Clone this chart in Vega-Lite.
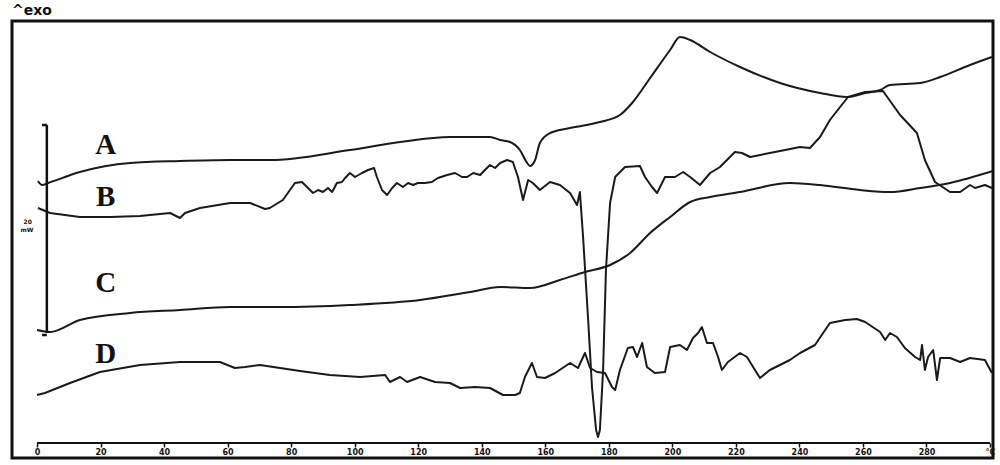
{
  "$schema": "https://vega.github.io/schema/vega-lite/v6.json",
  "width": 981,
  "height": 437,
  "autosize": {"type": "none"},
  "padding": {"left": 12, "top": 21, "right": 7, "bottom": 7},
  "background": "white",
  "title": {"text": "^exo", "anchor": "start", "fontSize": 14, "fontWeight": "bold", "font": "DejaVu Sans", "color": "#111", "offset": 3, "frame": "group"},
  "config": {"view": {"stroke": "#111", "strokeWidth": 3}},
  "datasets": {
    "curves": [
      {"curve": "A", "T": 0.3, "hf": 27.7}, {"curve": "A", "T": 1.6, "hf": 27.3}, {"curve": "A", "T": 3.5, "hf": 27.5}, {"curve": "A", "T": 13.5, "hf": 28.6}, {"curve": "A", "T": 29.3, "hf": 29.5}, {"curve": "A", "T": 45.0, "hf": 29.7}, {"curve": "A", "T": 60.8, "hf": 29.8}, {"curve": "A", "T": 73.3, "hf": 29.8}, {"curve": "A", "T": 98.5, "hf": 30.8}, {"curve": "A", "T": 114.3, "hf": 31.6}, {"curve": "A", "T": 130.0, "hf": 32.1}, {"curve": "A", "T": 142.6, "hf": 32.1}, {"curve": "A", "T": 145.8, "hf": 31.8}, {"curve": "A", "T": 148.9, "hf": 31.6}, {"curve": "A", "T": 152.0, "hf": 30.8}, {"curve": "A", "T": 154.3, "hf": 29.5}, {"curve": "A", "T": 155.2, "hf": 29.2}, {"curve": "A", "T": 156.8, "hf": 29.8}, {"curve": "A", "T": 158.3, "hf": 31.5}, {"curve": "A", "T": 161.5, "hf": 32.5}, {"curve": "A", "T": 167.8, "hf": 33.0}, {"curve": "A", "T": 177.2, "hf": 33.6}, {"curve": "A", "T": 183.5, "hf": 34.3}, {"curve": "A", "T": 187.6, "hf": 35.6}, {"curve": "A", "T": 193.0, "hf": 38.0}, {"curve": "A", "T": 199.3, "hf": 40.8}, {"curve": "A", "T": 202.4, "hf": 42.1}, {"curve": "A", "T": 205.6, "hf": 41.8}, {"curve": "A", "T": 211.9, "hf": 40.6}, {"curve": "A", "T": 221.3, "hf": 39.1}, {"curve": "A", "T": 233.9, "hf": 37.5}, {"curve": "A", "T": 246.5, "hf": 36.5}, {"curve": "A", "T": 255.0, "hf": 36.1}, {"curve": "A", "T": 260.7, "hf": 36.5}, {"curve": "A", "T": 265.4, "hf": 36.8}, {"curve": "A", "T": 268.5, "hf": 37.3}, {"curve": "A", "T": 278.0, "hf": 37.5}, {"curve": "A", "T": 284.3, "hf": 38.1}, {"curve": "A", "T": 293.7, "hf": 39.3}, {"curve": "A", "T": 300.6, "hf": 40.1},
      {"curve": "B", "T": 0.3, "hf": 25.0}, {"curve": "B", "T": 4.1, "hf": 24.5}, {"curve": "B", "T": 13.5, "hf": 24.1}, {"curve": "B", "T": 23.0, "hf": 24.1}, {"curve": "B", "T": 32.4, "hf": 24.2}, {"curve": "B", "T": 41.9, "hf": 24.5}, {"curve": "B", "T": 45.0, "hf": 24.0}, {"curve": "B", "T": 46.6, "hf": 24.5}, {"curve": "B", "T": 51.3, "hf": 25.0}, {"curve": "B", "T": 60.8, "hf": 25.5}, {"curve": "B", "T": 67.1, "hf": 25.5}, {"curve": "B", "T": 71.8, "hf": 24.9},
      {"curve": "B", "T": 73.3, "hf": 25.0}, {"curve": "B", "T": 77.4, "hf": 25.8}, {"curve": "B", "T": 80.3, "hf": 27.1}, {"curve": "B", "T": 81.2, "hf": 27.5}, {"curve": "B", "T": 83.4, "hf": 27.6}, {"curve": "B", "T": 85.0, "hf": 27.1}, {"curve": "B", "T": 86.9, "hf": 26.5}, {"curve": "B", "T": 88.5, "hf": 26.8}, {"curve": "B", "T": 90.0, "hf": 26.6}, {"curve": "B", "T": 91.6, "hf": 27.0}, {"curve": "B", "T": 92.9, "hf": 26.6}, {"curve": "B", "T": 94.4, "hf": 27.5}, {"curve": "B", "T": 96.0, "hf": 27.6}, {"curve": "B", "T": 97.0, "hf": 28.0}, {"curve": "B", "T": 98.5, "hf": 28.5}, {"curve": "B", "T": 100.1, "hf": 28.1}, {"curve": "B", "T": 102.3, "hf": 28.5}, {"curve": "B", "T": 104.2, "hf": 28.8}, {"curve": "B", "T": 106.1, "hf": 29.0}, {"curve": "B", "T": 107.0, "hf": 28.1}, {"curve": "B", "T": 108.6, "hf": 26.8}, {"curve": "B", "T": 110.2, "hf": 26.3}, {"curve": "B", "T": 111.8, "hf": 27.0}, {"curve": "B", "T": 113.3, "hf": 27.5}, {"curve": "B", "T": 115.2, "hf": 27.1}, {"curve": "B", "T": 116.8, "hf": 27.5}, {"curve": "B", "T": 118.4, "hf": 27.3}, {"curve": "B", "T": 119.9, "hf": 27.5}, {"curve": "B", "T": 122.1, "hf": 27.5}, {"curve": "B", "T": 124.3, "hf": 27.6}, {"curve": "B", "T": 126.2, "hf": 28.0}, {"curve": "B", "T": 129.1, "hf": 28.3}, {"curve": "B", "T": 131.6, "hf": 28.5}, {"curve": "B", "T": 133.8, "hf": 28.1}, {"curve": "B", "T": 135.4, "hf": 28.1}, {"curve": "B", "T": 137.3, "hf": 28.5}, {"curve": "B", "T": 139.5, "hf": 28.3}, {"curve": "B", "T": 141.0, "hf": 28.8}, {"curve": "B", "T": 142.6, "hf": 29.3}, {"curve": "B", "T": 144.2, "hf": 29.0}, {"curve": "B", "T": 145.8, "hf": 29.5}, {"curve": "B", "T": 148.0, "hf": 29.8}, {"curve": "B", "T": 149.8, "hf": 29.6}, {"curve": "B", "T": 151.4, "hf": 28.1}, {"curve": "B", "T": 153.0, "hf": 25.8}, {"curve": "B", "T": 154.6, "hf": 27.8},
      {"curve": "B", "T": 156.1, "hf": 27.5}, {"curve": "B", "T": 158.3, "hf": 26.8}, {"curve": "B", "T": 161.5, "hf": 27.6}, {"curve": "B", "T": 164.6, "hf": 27.3}, {"curve": "B", "T": 167.8, "hf": 26.5}, {"curve": "B", "T": 170.0, "hf": 25.3}, {"curve": "B", "T": 170.9, "hf": 26.6}, {"curve": "B", "T": 171.9, "hf": 22.1}, {"curve": "B", "T": 173.5, "hf": 13.8}, {"curve": "B", "T": 174.7, "hf": 7.1}, {"curve": "B", "T": 176.0, "hf": 2.8}, {"curve": "B", "T": 176.6, "hf": 2.1}, {"curve": "B", "T": 177.2, "hf": 2.8}, {"curve": "B", "T": 178.2, "hf": 8.8}, {"curve": "B", "T": 179.1, "hf": 18.8}, {"curve": "B", "T": 180.4, "hf": 25.5}, {"curve": "B", "T": 182.0, "hf": 28.1}, {"curve": "B", "T": 185.1, "hf": 29.1}, {"curve": "B", "T": 189.8, "hf": 29.2}, {"curve": "B", "T": 191.4, "hf": 28.1}, {"curve": "B", "T": 193.6, "hf": 27.1}, {"curve": "B", "T": 195.2, "hf": 26.5}, {"curve": "B", "T": 197.7, "hf": 28.1}, {"curve": "B", "T": 200.8, "hf": 28.1}, {"curve": "B", "T": 203.4, "hf": 28.6}, {"curve": "B", "T": 205.6, "hf": 28.1}, {"curve": "B", "T": 208.7, "hf": 27.3}, {"curve": "B", "T": 211.9, "hf": 28.5}, {"curve": "B", "T": 215.0, "hf": 29.1}, {"curve": "B", "T": 219.7, "hf": 30.6}, {"curve": "B", "T": 221.9, "hf": 30.5}, {"curve": "B", "T": 224.5, "hf": 30.1}, {"curve": "B", "T": 230.7, "hf": 30.5}, {"curve": "B", "T": 235.5, "hf": 30.8}, {"curve": "B", "T": 240.2, "hf": 31.1}, {"curve": "B", "T": 243.3, "hf": 31.0}, {"curve": "B", "T": 246.5, "hf": 32.1}, {"curve": "B", "T": 249.6, "hf": 33.8}, {"curve": "B", "T": 252.8, "hf": 35.1}, {"curve": "B", "T": 255.3, "hf": 36.1}, {"curve": "B", "T": 260.7, "hf": 36.6}, {"curve": "B", "T": 266.3, "hf": 36.7}, {"curve": "B", "T": 271.7, "hf": 34.3}, {"curve": "B", "T": 277.0, "hf": 32.5}, {"curve": "B", "T": 279.5, "hf": 29.8}, {"curve": "B", "T": 282.7, "hf": 27.6}, {"curve": "B", "T": 287.4, "hf": 26.6}, {"curve": "B", "T": 290.6, "hf": 26.6}, {"curve": "B", "T": 293.7, "hf": 27.3}, {"curve": "B", "T": 295.3, "hf": 27.0}, {"curve": "B", "T": 298.4, "hf": 27.3}, {"curve": "B", "T": 300.6, "hf": 27.0},
      {"curve": "C", "T": 0.0, "hf": 12.8}, {"curve": "C", "T": 4.1, "hf": 12.6}, {"curve": "C", "T": 13.5, "hf": 13.8}, {"curve": "C", "T": 29.3, "hf": 14.5}, {"curve": "C", "T": 45.0, "hf": 14.8}, {"curve": "C", "T": 60.8, "hf": 15.1}, {"curve": "C", "T": 76.5, "hf": 15.1}, {"curve": "C", "T": 98.5, "hf": 15.3}, {"curve": "C", "T": 120.6, "hf": 15.8}, {"curve": "C", "T": 136.3, "hf": 16.6}, {"curve": "C", "T": 145.8, "hf": 17.1}, {"curve": "C", "T": 155.2, "hf": 17.0}, {"curve": "C", "T": 164.6, "hf": 17.8}, {"curve": "C", "T": 172.5, "hf": 18.6}, {"curve": "C", "T": 180.4, "hf": 19.3}, {"curve": "C", "T": 186.7, "hf": 20.5}, {"curve": "C", "T": 193.0, "hf": 22.5}, {"curve": "C", "T": 199.3, "hf": 24.1}, {"curve": "C", "T": 205.6, "hf": 25.6}, {"curve": "C", "T": 211.9, "hf": 26.1}, {"curve": "C", "T": 221.3, "hf": 26.6}, {"curve": "C", "T": 237.0, "hf": 27.5}, {"curve": "C", "T": 246.5, "hf": 27.3}, {"curve": "C", "T": 259.1, "hf": 26.8}, {"curve": "C", "T": 268.5, "hf": 26.6}, {"curve": "C", "T": 278.0, "hf": 27.0}, {"curve": "C", "T": 287.4, "hf": 27.5}, {"curve": "C", "T": 300.9, "hf": 28.7},
      {"curve": "D", "T": 0.0, "hf": 6.3}, {"curve": "D", "T": 2.5, "hf": 6.5}, {"curve": "D", "T": 10.4, "hf": 7.5}, {"curve": "D", "T": 19.8, "hf": 8.6}, {"curve": "D", "T": 32.4, "hf": 9.3}, {"curve": "D", "T": 45.0, "hf": 9.6}, {"curve": "D", "T": 57.6, "hf": 9.6}, {"curve": "D", "T": 62.3, "hf": 9.0}, {"curve": "D", "T": 65.5, "hf": 9.1}, {"curve": "D", "T": 70.2, "hf": 9.3}, {"curve": "D", "T": 76.5, "hf": 9.0}, {"curve": "D", "T": 82.8, "hf": 8.7}, {"curve": "D", "T": 92.2, "hf": 8.3}, {"curve": "D", "T": 101.7, "hf": 8.1}, {"curve": "D", "T": 109.6, "hf": 8.3}, {"curve": "D", "T": 111.1, "hf": 7.6}, {"curve": "D", "T": 114.3, "hf": 8.1}, {"curve": "D", "T": 116.5, "hf": 7.6}, {"curve": "D", "T": 120.6, "hf": 8.1}, {"curve": "D", "T": 125.3, "hf": 7.6}, {"curve": "D", "T": 130.0, "hf": 7.5}, {"curve": "D", "T": 133.2, "hf": 7.0}, {"curve": "D", "T": 137.9, "hf": 7.1}, {"curve": "D", "T": 142.6, "hf": 7.0}, {"curve": "D", "T": 146.7, "hf": 6.3}, {"curve": "D", "T": 150.5, "hf": 6.3}, {"curve": "D", "T": 152.0, "hf": 6.5}, {"curve": "D", "T": 153.6, "hf": 8.1}, {"curve": "D", "T": 155.8, "hf": 9.5}, {"curve": "D", "T": 157.4, "hf": 8.1}, {"curve": "D", "T": 159.9, "hf": 8.0}, {"curve": "D", "T": 163.1, "hf": 8.5}, {"curve": "D", "T": 167.8, "hf": 9.5}, {"curve": "D", "T": 170.3, "hf": 9.0}, {"curve": "D", "T": 172.5, "hf": 10.5}, {"curve": "D", "T": 174.1, "hf": 9.0}, {"curve": "D", "T": 176.3, "hf": 8.6}, {"curve": "D", "T": 178.8, "hf": 8.5}, {"curve": "D", "T": 181.0, "hf": 7.1}, {"curve": "D", "T": 182.0, "hf": 6.8}, {"curve": "D", "T": 183.5, "hf": 8.8}, {"curve": "D", "T": 186.0, "hf": 11.0}, {"curve": "D", "T": 187.6, "hf": 11.1}, {"curve": "D", "T": 188.9, "hf": 10.1}, {"curve": "D", "T": 190.5, "hf": 11.5}, {"curve": "D", "T": 192.0, "hf": 9.1}, {"curve": "D", "T": 194.5, "hf": 8.5}, {"curve": "D", "T": 197.7, "hf": 8.6}, {"curve": "D", "T": 199.3, "hf": 11.1}, {"curve": "D", "T": 202.4, "hf": 11.3}, {"curve": "D", "T": 204.6, "hf": 10.8}, {"curve": "D", "T": 206.5, "hf": 12.0}, {"curve": "D", "T": 208.1, "hf": 12.5}, {"curve": "D", "T": 209.3, "hf": 13.1}, {"curve": "D", "T": 210.9, "hf": 11.5}, {"curve": "D", "T": 212.8, "hf": 11.5}, {"curve": "D", "T": 214.4, "hf": 10.1}, {"curve": "D", "T": 215.6, "hf": 8.8}, {"curve": "D", "T": 217.5, "hf": 9.6}, {"curve": "D", "T": 221.3, "hf": 10.5}, {"curve": "D", "T": 223.5, "hf": 10.1}, {"curve": "D", "T": 226.0, "hf": 8.8}, {"curve": "D", "T": 227.6, "hf": 8.0}, {"curve": "D", "T": 230.7, "hf": 8.8}, {"curve": "D", "T": 237.0, "hf": 9.8}, {"curve": "D", "T": 240.2, "hf": 10.5}, {"curve": "D", "T": 244.9, "hf": 11.3}, {"curve": "D", "T": 249.6, "hf": 13.5}, {"curve": "D", "T": 254.4, "hf": 13.8}, {"curve": "D", "T": 258.1, "hf": 13.9}, {"curve": "D", "T": 260.7, "hf": 13.6}, {"curve": "D", "T": 265.4, "hf": 12.6}, {"curve": "D", "T": 267.0, "hf": 11.8}, {"curve": "D", "T": 268.5, "hf": 12.5}, {"curve": "D", "T": 270.7, "hf": 12.1}, {"curve": "D", "T": 273.2, "hf": 11.0}, {"curve": "D", "T": 276.4, "hf": 10.1}, {"curve": "D", "T": 278.0, "hf": 9.8}, {"curve": "D", "T": 278.6, "hf": 11.3}, {"curve": "D", "T": 279.5, "hf": 8.8}, {"curve": "D", "T": 280.5, "hf": 10.1}, {"curve": "D", "T": 282.1, "hf": 10.8}, {"curve": "D", "T": 283.3, "hf": 7.8}, {"curve": "D", "T": 284.3, "hf": 10.0}, {"curve": "D", "T": 287.4, "hf": 10.0}, {"curve": "D", "T": 290.6, "hf": 9.6}, {"curve": "D", "T": 293.7, "hf": 10.0}, {"curve": "D", "T": 298.4, "hf": 9.8}, {"curve": "D", "T": 300.6, "hf": 8.5}
    ],
    "labels": [
      {"text": "A", "T": 21.6, "hf": 31.3},
      {"text": "B", "T": 21.6, "hf": 26.1},
      {"text": "C", "T": 21.6, "hf": 17.5},
      {"text": "D", "T": 21.6, "hf": 10.4}
    ],
    "scalebar": [
      {"T": 3.1, "T2": 3.1, "hf": 33.3, "hf2": 12.5},
      {"T": 1.6, "T2": 3.1, "hf": 33.3, "hf2": 33.3},
      {"T": 1.6, "T2": 3.1, "hf": 12.3, "hf2": 12.3}
    ],
    "scaletext": [
      {"text": "20", "T": -2.9, "hf": 23.6},
      {"text": "mW", "T": -3.2, "hf": 22.8}
    ],
    "baseline": [
      {"T": 0, "T2": 300, "hf": 1.5}
    ]
  },
  "layer": [
    {
      "data": {"name": "baseline"},
      "mark": {"type": "rule", "color": "#111", "strokeWidth": 2},
      "encoding": {
        "x": {"field": "T", "type": "quantitative", "scale": {"domain": [-7.87, 300.94], "nice": false, "zero": false},
          "axis": {"values": [0,10,20,30,40,50,60,70,80,90,100,110,120,130,140,150,160,170,180,190,200,210,220,230,240,250,260,270,280,290,300],
            "labelExpr": "datum.value == 300 ? '°C' : (datum.value % 20 == 0 ? datum.label : '')",
            "offset": -15, "domain": false, "grid": false, "ticks": true, "tickSize": 4, "tickWidth": 1.5, "tickColor": "#111",
            "labelFontSize": 8, "labelFontWeight": "bold", "labelFont": "DejaVu Sans", "labelColor": "#111", "labelPadding": 1, "title": null, "labelFlush": false, "labelOverlap": false}},
        "x2": {"field": "T2"},
        "y": {"field": "hf", "type": "quantitative", "scale": {"domain": [0, 43.7], "nice": false, "zero": false}, "axis": null}
      }
    },
    {
      "data": {"name": "curves"},
      "transform": [{"filter": "datum.curve == 'A' || datum.curve == 'C'"}],
      "mark": {"type": "line", "color": "#1a1a1a", "strokeWidth": 2, "interpolate": "monotone", "clip": true},
      "encoding": {
        "x": {"field": "T", "type": "quantitative"},
        "y": {"field": "hf", "type": "quantitative"},
        "detail": {"field": "curve"},
        "order": {"field": "T", "type": "quantitative"}
      }
    },
    {
      "data": {"name": "curves"},
      "transform": [{"filter": "datum.curve == 'B' || datum.curve == 'D'"}],
      "mark": {"type": "line", "color": "#1a1a1a", "strokeWidth": 2, "strokeJoin": "round", "clip": true},
      "encoding": {
        "x": {"field": "T", "type": "quantitative"},
        "y": {"field": "hf", "type": "quantitative"},
        "detail": {"field": "curve"},
        "order": {"field": "T", "type": "quantitative"}
      }
    },
    {
      "data": {"name": "scalebar"},
      "mark": {"type": "rule", "color": "#111", "strokeWidth": 2.5},
      "encoding": {
        "x": {"field": "T", "type": "quantitative"},
        "x2": {"field": "T2"},
        "y": {"field": "hf", "type": "quantitative"},
        "y2": {"field": "hf2"}
      }
    },
    {
      "data": {"name": "scaletext"},
      "mark": {"type": "text", "font": "DejaVu Sans", "fontWeight": "bold", "fontSize": 6, "color": "#111"},
      "encoding": {
        "x": {"field": "T", "type": "quantitative"},
        "y": {"field": "hf", "type": "quantitative"},
        "text": {"field": "text"}
      }
    },
    {
      "data": {"name": "labels"},
      "mark": {"type": "text", "font": "Liberation Serif", "fontWeight": "bold", "fontSize": 29, "color": "#111"},
      "encoding": {
        "x": {"field": "T", "type": "quantitative"},
        "y": {"field": "hf", "type": "quantitative"},
        "text": {"field": "text"}
      }
    }
  ]
}
